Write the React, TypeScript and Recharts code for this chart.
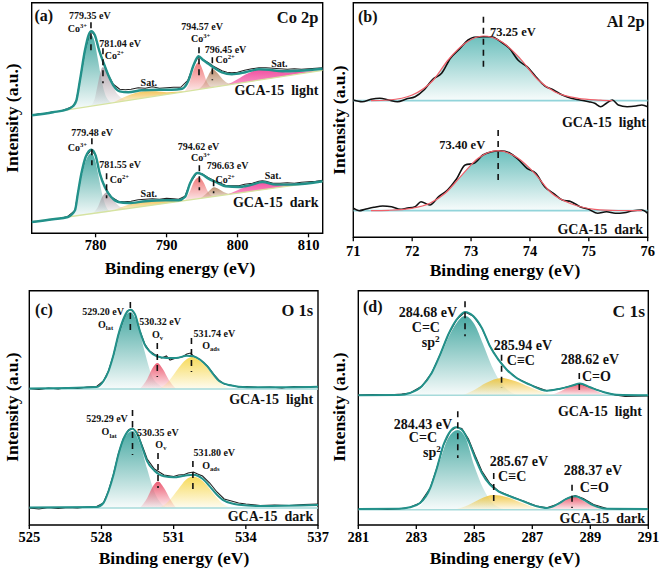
import React from 'react';
import {
  ComposedChart,
  Line,
  Area,
  Scatter,
  XAxis,
  YAxis,
  ReferenceArea,
  ReferenceLine,
} from 'recharts';

const FONT = '"Liberation Serif", "Times New Roman", serif';

type P = [number, number];
type B = [number, number, number];

// ---------- (a) Co 2p ----------
const coTicks = [780, 790, 800, 810];
const coLightEnv: P[] = [[771,118],[774,121],[776,124],[776.8,127],[777.3,133],[777.8,153],[778.5,183],[779,198],[779.4,202],[779.9,198],[780.5,183],[781.1,171],[781.8,158],[782.5,148],[783.4,142],[784.6,141],[786.5,143],[788.9,143.5],[790.7,143.5],[792.2,144.5],[793.1,153],[793.8,168],[794.5,177],[795.2,173],[795.9,169.5],[796.6,166],[797.8,161],[799.2,159],[801.1,161],[803,164],[804.4,163.5],[806.3,162],[808.7,162.5],[812,164.5]];
const coLightRaw: P[] = [[771,118],[772,119.5],[773,120],[774,121.5],[775,122],[776,124.5],[776.8,127],[777.3,133],[777.8,153],[778.5,183],[779.2,201],[779.4,202],[779.9,198],[780.5,183],[781.1,171],[781.8,158],[782.5,149],[783.4,144],[784.2,143.5],[785,144],[786,145.5],[787,145],[788,146.5],[789,145],[790,145.5],[791,146],[792,146],[793,153],[793.8,168],[794.5,177],[795.2,173.5],[795.9,170.5],[796.6,167],[797.8,162.5],[798.5,161],[799.2,160.5],[800,161],[801,163],[802,164.5],[803,165.5],[804,165.5],[805,165],[806,164.5],[807,164],[808,164.5],[809,164],[810,164.5],[811,165],[812,165.5]];
const coLightBase: P[] = [[771,118],[812,163]];
const coLightCo3a: B[] = [[776.5,124,124.5],[777.3,124.9,132],[777.8,125.5,150],[778.5,126.2,180],[779,126.8,195],[779.4,127.2,198],[779.8,127.7,193],[780.3,128.2,175],[780.8,128.8,155],[781.3,129.3,140],[781.8,129.9,133],[782.3,130.4,130.6]];
const coLightCo2a: B[] = [[779.3,127.1,127.3],[779.9,127.8,135],[780.4,128.3,152],[781,129,166],[781.6,129.6,162],[782.2,130.3,152],[782.8,131,142],[783.5,131.7,136],[784.3,132.6,133]];
const coLightSat1: B[] = [[782.5,130.6,130.7],[784,132.3,136],[785.5,133.9,140],[787,135.6,142],[788.5,137.2,142],[790,138.9,141],[791.5,140.5,141.5],[792.5,141.6,141.7]];
const coLightCo3b: B[] = [[792.5,141.6,141.7],[793.2,142.4,150],[793.8,143,163],[794.5,143.8,171],[795.1,144.5,163],[795.7,145.1,151],[796.3,145.8,146.5],[796.8,146.3,146.4]];
const coLightCo2b: B[] = [[794.5,143.8,143.9],[795.3,144.7,150],[795.9,145.3,158],[796.5,146,164],[797.2,146.7,160],[797.9,147.5,154],[798.7,148.4,150],[799.5,149.3,149.5]];
const coLightSat2: B[] = [[798.5,148.2,148.3],[800,149.8,154],[801.5,151.5,160],[803,153.1,163.5],[804.5,154.8,163],[806,156.4,161.5],[807.5,158.1,161],[809,159.7,161.5],[810.5,161.4,162],[811.5,162.5,162.6]];

const coDarkEnv: P[] = [[771,11.3],[774,14],[776.1,16.3],[777.1,23],[777.5,39.7],[778,59.7],[778.6,76.3],[779.4,83.7],[780,78],[780.6,59.7],[781.3,46.3],[782.2,36.3],[783.2,31.3],[784.6,30.3],[787,32],[789.8,33],[791.7,33],[792.6,36.3],[793.3,49.7],[794.3,60.3],[795,59],[795.9,54.7],[796.9,51.3],[798.3,47],[800.2,46.3],[802.1,48.7],[803.5,51.3],[805.4,48.7],[807.7,48.7],[812,52]];
const coDarkRaw: P[] = [[771,11],[772,12],[773,13],[774,14],[775,15],[776,16.5],[777.1,23],[777.5,39.7],[778,59.7],[778.6,76.3],[779.4,83.7],[780,78],[780.6,59.7],[781.3,46.3],[782.2,36.3],[783.2,32],[784,31.5],[785,32],[786,33.5],[787,34],[788,34.5],[789,34],[790,35],[791,34.5],[791.7,34],[792.6,37],[793.3,50],[794.3,60.5],[795,59.5],[795.9,55.5],[796.9,52],[798.3,48],[799,47.5],[800.2,47.5],[801,49],[802.1,50],[803,52],[803.5,52.5],[804,52],[805,50],[806,50],[807,50.5],[808,50],[809,51],[810,51.5],[811,52],[812,53]];
const coDarkBase: P[] = [[771,11.3],[812,52]];
const coDarkCo3a: B[] = [[776.6,16.1,16.2],[777.3,16.8,27],[777.8,17.3,48],[778.5,18,70],[779,18.5,78],[779.4,18.9,80],[779.9,19.4,74],[780.4,19.9,58],[780.9,20.4,40],[781.4,20.9,28],[781.9,21.4,22.5],[782.3,21.8,21.9]];
const coDarkCo2a: B[] = [[779.6,19.8,19.9],[780.3,20.5,26],[780.9,21.1,36],[781.6,21.8,41],[782.2,22.4,37],[782.9,23.1,30],[783.6,23.8,26],[784.4,24.6,25]];
const coDarkSat1: B[] = [[782.5,22.7,22.8],[784,24.2,27],[785.5,25.7,30],[787,27.1,31.5],[788.5,28.6,32],[790,30.1,32],[791.5,31.6,32.5],[792.5,32.6,32.7]];
const coDarkCo3b: B[] = [[792.6,32.7,32.8],[793.3,33.4,42],[793.9,34,52],[794.6,34.7,56],[795.2,35.3,51],[795.8,35.9,42],[796.4,36.5,37.5],[796.9,37,37.1]];
const coDarkCo2b: B[] = [[794.8,34.9,35],[795.5,35.6,39],[796.1,36.2,43],[796.7,36.8,46],[797.4,37.5,44],[798.1,38.2,41],[798.9,39,39.5],[799.6,39.7,39.8]];
const coDarkSat2: B[] = [[798.5,38.5,38.6],[800,40,43],[801.5,41.5,47.5],[803,43,50],[803.6,43.6,50.5],[805,45,49],[806.5,46.5,48],[808,48,48.5],[809.5,49.4,49.6],[811,51,51.1]];

const coMarks: B[] = [[779.35,211,180],[781.04,185,150],[794.57,186,155],[796.45,176,153],[779.48,95,68],[781.55,60,35],[794.62,68,43],[796.63,53,40]];
const coNotes = [
  { x: 771.4, y: 218, t: '(a)', a: 'start', k: 'letter' },
  { x: 811.4, y: 216, t: 'Co 2p', a: 'end', k: 'title' },
  { x: 779.2, y: 218, t: '779.35 eV' },
  { x: 778.8, y: 205, t: 'Co^{3+}', a: 'end' },
  { x: 783.45, y: 190, t: '781.04 eV' },
  { x: 781.3, y: 178, t: 'Co^{2+}', a: 'start' },
  { x: 787.5, y: 151, t: 'Sat.' },
  { x: 795.0, y: 207, t: '794.57 eV' },
  { x: 794.8, y: 195, t: 'Co^{3+}' },
  { x: 798.3, y: 184, t: '796.45 eV' },
  { x: 796.9, y: 174, t: 'Co^{2+}', a: 'start' },
  { x: 805.9, y: 170, t: 'Sat.' },
  { x: 811.4, y: 143, t: 'GCA-15  light', a: 'end', k: 'sample' },
  { x: 779.5, y: 101, t: '779.48 eV' },
  { x: 778.8, y: 86, t: 'Co^{3+}', a: 'end' },
  { x: 783.45, y: 69, t: '781.55 eV' },
  { x: 782.0, y: 54, t: 'Co^{2+}', a: 'start' },
  { x: 787.5, y: 40, t: 'Sat.' },
  { x: 794.5, y: 87, t: '794.62 eV' },
  { x: 794.8, y: 76, t: 'Co^{3+}' },
  { x: 798.6, y: 68, t: '796.63 eV' },
  { x: 796.9, y: 54, t: 'Co^{2+}', a: 'start' },
  { x: 805.0, y: 58, t: 'Sat.' },
  { x: 811.4, y: 31, t: 'GCA-15  dark', a: 'end', k: 'sample' },
];

// ---------- (b) Al 2p ----------
const alTicks = [71, 72, 73, 74, 75, 76];
const alLightFit: P[] = [[71.3,136.6],[71.6,137.3],[72,142.3],[72.36,157.3],[72.61,177.3],[72.9,194],[73.21,201.3],[73.52,195.6],[73.83,179],[74.14,157.3],[74.42,145.6],[74.82,139],[75.2,137.2],[75.4,136.6]];
const alLightRaw: P[] = [[71,137.3],[71.15,135.6],[71.3,138],[71.45,139],[71.6,137.3],[71.75,135.6],[71.9,138.3],[72.05,140.6],[72.2,147.3],[72.35,158],[72.5,164],[72.65,179],[72.8,188],[72.95,197.3],[73.05,200],[73.2,200.6],[73.35,200.6],[73.5,195.6],[73.65,189],[73.8,177],[73.95,170.6],[74.1,160.6],[74.25,151.5],[74.4,147.3],[74.55,142.3],[74.7,139],[74.85,137.3],[75,135.6],[75.1,134],[75.2,130.6],[75.3,134],[75.4,137.3],[75.5,132.3],[75.65,130.6],[75.8,131.3],[75.9,132.3],[76,130.6]];
const alLightBase: P[] = [[71,136.6],[76,136.6]];
const alDarkFit: P[] = [[71.3,26.6],[71.6,27],[71.99,29],[72.3,34],[72.56,44],[72.84,62],[73.12,79],[73.46,86.6],[73.8,79],[74.08,64],[74.37,44],[74.71,33.3],[75.1,28],[75.5,26.8],[75.9,26.6]];
const alDarkRaw: P[] = [[71,29],[71.1,26.6],[71.2,28],[71.35,30],[71.5,31.3],[71.65,30.6],[71.8,28],[71.9,29],[72.05,30.6],[72.15,35.6],[72.3,32.3],[72.45,40.6],[72.6,47.3],[72.75,58],[72.9,72.3],[73.05,74],[73.2,82.3],[73.35,85.6],[73.5,86.6],[73.65,84.6],[73.8,78],[73.95,69],[74.1,64],[74.25,50.6],[74.4,44],[74.55,37.3],[74.7,35.6],[74.85,30.6],[75,28],[75.15,24],[75.3,25.6],[75.45,24],[75.6,24.6],[75.75,26.6],[75.9,27.3],[76,24]];
const alDarkBase: P[] = [[71,26.6],[76,26.6]];
const alMarks: B[] = [[73.21,220.6,170.6],[73.46,107.3,57.3]];
const alNotes = [
  { x: 71.08, y: 221, t: '(b)', a: 'start', k: 'letter' },
  { x: 75.95, y: 216, t: 'Al 2p', a: 'end', k: 'title' },
  { x: 73.32, y: 205.6, t: '73.25 eV', a: 'start' },
  { x: 75.97, y: 115, t: 'GCA-15  light', a: 'end', k: 'sample' },
  { x: 73.24, y: 93, t: '73.40 eV', a: 'end' },
  { x: 75.92, y: 8, t: 'GCA-15  dark', a: 'end', k: 'sample' },
];

// ---------- (c) O 1s ----------
const oTicks = [525, 528, 531, 534, 537];
const oLightEnv: P[] = [[525,135.5],[527.8,137],[528.08,142.7],[528.29,152.7],[528.5,169.3],[528.7,189.3],[528.9,204.3],[529.08,212.7],[529.22,214.3],[529.4,209.3],[529.6,192.7],[529.8,179.3],[530,172.7],[530.3,167.7],[530.7,166],[531.1,166],[531.55,168.3],[531.82,167.7],[532.1,164.3],[532.4,157.7],[532.66,149.3],[532.9,142.7],[533.35,138.7],[534.05,136.7],[535,136.7],[537,137.3]];
const oLightRaw: P[] = [[525,135.5],[525.4,134.5],[525.8,136],[526.2,135],[526.6,136.5],[527,135.5],[527.4,137],[527.8,137.5],[528.08,143],[528.29,153],[528.5,169],[528.7,189],[528.9,204],[529.08,213],[529.22,214.5],[529.4,209.5],[529.6,193],[529.8,180],[530,173],[530.3,168],[530.5,166],[530.7,168],[530.85,164],[531.1,166],[531.35,167],[531.55,170],[531.7,171],[531.82,168],[532.1,164.5],[532.4,158],[532.66,150],[532.9,143.5],[533.1,140],[533.35,139],[533.7,137],[534.05,137.5],[534.5,136.5],[535,137],[535.5,136],[536,137.5],[536.5,137],[537,137.5]];
const oLightLat: P[] = [[527.9,135],[528.3,150],[528.6,178],[528.9,203],[529.2,212],[529.5,200],[529.8,172],[530.1,148],[530.4,139],[530.7,135]];
const oLightV: P[] = [[529.6,135],[529.9,145],[530.1,155],[530.32,161],[530.55,155],[530.8,144],[531.1,135]];
const oLightAds: P[] = [[530.4,135],[530.8,143],[531.2,156],[531.5,164],[531.76,167],[532.1,163],[532.4,156],[532.7,147],[533,140],[533.4,135]];
const oDarkEnv: P[] = [[525,16.5],[527.8,17],[528.08,21],[528.29,32.7],[528.5,49.3],[528.7,69.3],[528.9,84.3],[529.12,93.3],[529.29,95.3],[529.5,89.3],[529.7,76],[529.9,62.7],[530.2,53.3],[530.6,47.7],[531,46.7],[531.45,48.3],[531.82,49.3],[532.2,45.3],[532.5,37.7],[532.8,29.3],[533.1,23.3],[533.7,19.3],[534.6,18],[537,19]];
const oDarkRaw: P[] = [[525,16],[525.4,15],[525.8,16.5],[526.2,15.5],[526.6,16.5],[527,16],[527.4,17],[527.8,17.5],[528.08,21],[528.29,33],[528.5,50],[528.7,70],[528.9,85],[529.12,94],[529.29,96],[529.5,90.5],[529.7,78],[529.9,65],[530.2,55],[530.6,49],[531,47.5],[531.2,49],[531.45,49.5],[531.6,51],[531.82,52],[532,50],[532.2,48],[532.5,41],[532.8,32],[533.1,25],[533.4,23],[533.7,21],[534,20],[534.6,18.5],[535.2,19],[535.8,18.5],[536.4,19.5],[537,20]];
const oDarkLat: P[] = [[527.9,16],[528.3,31],[528.6,58],[528.9,83],[529.29,93],[529.6,80],[529.9,55],[530.2,32],[530.5,20],[530.8,16]];
const oDarkV: P[] = [[529.6,16],[529.9,26],[530.1,36],[530.35,42.5],[530.6,36],[530.85,25],[531.1,16]];
const oDarkAds: P[] = [[530.4,16],[530.8,23],[531.2,35],[531.5,44],[531.8,47.5],[532.1,45],[532.4,38],[532.7,29],[533,21],[533.4,16]];
const oLightBase: P[] = [[525,135],[537,135]];
const oDarkBase: P[] = [[525,16],[537,16]];
const oMarks: B[] = [[529.2,222,193],[530.32,181,147],[531.74,186,152],[529.29,114,69],[530.35,71,36],[531.8,63,34]];
const oNotes = [
  { x: 525.24, y: 214.3, t: '(c)', a: 'start', k: 'letter' },
  { x: 536.8, y: 213.3, t: 'O 1s', a: 'end', k: 'title' },
  { x: 528.07, y: 212, t: '529.20 eV' },
  { x: 528.17, y: 199.3, t: 'O_{lat}' },
  { x: 530.44, y: 202.7, t: '530.32 eV' },
  { x: 530.33, y: 189.3, t: 'O_{v}' },
  { x: 531.83, y: 190, t: '531.74 eV', a: 'start' },
  { x: 532.19, y: 178.7, t: 'O_{ads}', a: 'start' },
  { x: 536.8, y: 124.3, t: 'GCA-15  light', a: 'end', k: 'sample' },
  { x: 528.23, y: 105, t: '529.29 eV' },
  { x: 528.32, y: 92, t: 'O_{lat}' },
  { x: 529.48, y: 91, t: '530.35 eV', a: 'start' },
  { x: 530.47, y: 79.3, t: 'O_{v}' },
  { x: 531.82, y: 71.7, t: '531.80 eV', a: 'start' },
  { x: 532.19, y: 58.7, t: 'O_{ads}', a: 'start' },
  { x: 536.8, y: 7.7, t: 'GCA-15  dark', a: 'end', k: 'sample' },
];

// ---------- (d) C 1s ----------
const cTicks = [281, 283, 285, 287, 289, 291];
const cLightEnv: P[] = [[281,128.7],[282.4,129],[282.78,131],[283.19,137.7],[283.53,151],[283.82,169.3],[284.1,189.3],[284.39,204.3],[284.68,212],[284.97,207.7],[285.26,196],[285.54,177.7],[285.83,164.3],[286.12,154.3],[286.46,146],[286.92,139.3],[287.5,133.3],[287.96,135.3],[288.41,138.7],[288.64,140.5],[288.99,136.7],[289.45,132],[289.91,129.3],[291,128.7]];
const cLightRaw: P[] = [[281,129],[281.5,129.5],[282,129],[282.5,130],[282.78,131],[283.19,137.7],[283.53,151],[283.82,169.3],[284.1,189.3],[284.39,204.3],[284.68,212],[284.97,207.7],[285.26,196],[285.54,177.7],[285.83,164.3],[286.12,154.3],[286.46,146],[286.92,139.3],[287.5,133.3],[287.96,135.3],[288.41,138.7],[288.64,140.5],[288.99,136.7],[289.45,132],[289.91,128.8],[290.2,127.5],[290.6,127.8],[291,128]];
const cLightCC: P[] = [[282.7,128.7],[283,131],[283.4,143],[283.8,166],[284.2,192],[284.68,208],[285,200],[285.3,180],[285.6,158],[285.9,142],[286.2,133],[286.5,128.7]];
const cLightCtC: P[] = [[284.6,128.7],[285,134],[285.4,141],[285.94,146],[286.4,143],[286.9,137],[287.4,131.5],[287.8,128.7]];
const cLightCO: P[] = [[287.6,128.7],[288,133],[288.3,138],[288.62,140],[288.9,138],[289.2,133],[289.6,128.7]];
const cDarkEnv: P[] = [[281,15],[282.4,15.3],[282.78,16.7],[283.13,21],[283.48,36],[283.71,56],[283.94,79.3],[284.17,92.7],[284.37,96.7],[284.57,94.3],[284.8,82.7],[285.03,66],[285.26,51],[285.54,39.3],[285.83,32.7],[286.23,27.7],[286.69,22.7],[287.15,17.7],[287.5,16],[287.84,19.3],[288.19,25.3],[288.48,27.7],[288.76,24.3],[289.11,18.7],[289.57,15.3],[291,15]];
const cDarkRaw: P[] = [[281,15],[281.5,15.5],[282,14.5],[282.5,15.5],[282.78,16.7],[283.13,21],[283.48,36],[283.71,56],[283.94,79.3],[284.17,92.7],[284.37,96.7],[284.57,95.5],[284.8,85],[285.03,68.5],[285.26,53],[285.54,40.5],[285.83,33],[286.23,28],[286.69,23],[287.15,18],[287.5,16.3],[287.84,19.5],[288.19,25.5],[288.48,28.5],[288.76,25.5],[289.11,19.5],[289.57,15.5],[290,15],[290.5,15.5],[291,15]];
const cDarkCC: P[] = [[282.9,14.3],[283.2,20],[283.5,36],[283.8,62],[284.1,86],[284.43,94],[284.7,86],[285,58],[285.3,36],[285.6,22],[285.9,16],[286.2,14.3]];
const cDarkCtC: P[] = [[284.3,14.3],[284.8,19],[285.2,25],[285.67,29],[286.1,27],[286.6,21.5],[287,17],[287.4,14.3]];
const cDarkCO: P[] = [[287.5,14.3],[287.9,19],[288.15,24],[288.4,27.5],[288.65,25],[288.95,20],[289.3,16],[289.6,14.3]];
const cLightBase: P[] = [[281,128.7],[291,128.7]];
const cDarkBase: P[] = [[281,14.3],[291,14.3]];
const cMarks: B[] = [[284.68,222.7,187.7],[285.94,169.3,136],[288.62,151,132.7],[284.43,112.7,66],[285.67,51,21],[288.37,39.3,16]];
const cNotes = [
  { x: 281.16, y: 217.7, t: '(d)', a: 'start', k: 'letter' },
  { x: 290.89, y: 213.3, t: 'C 1s', a: 'end', k: 'title' },
  { x: 283.4, y: 212, t: '284.68 eV' },
  { x: 283.33, y: 196.5, t: 'C=C' },
  { x: 283.5, y: 181.5, t: 'sp^{2}' },
  { x: 286.68, y: 178.7, t: '285.94 eV' },
  { x: 286.12, y: 163.3, t: 'C≡C', a: 'start' },
  { x: 288.99, y: 165, t: '288.62 eV' },
  { x: 288.71, y: 147.7, t: 'C=O', a: 'start' },
  { x: 290.78, y: 112.7, t: 'GCA-15  light', a: 'end', k: 'sample' },
  { x: 283.23, y: 100, t: '284.43 eV' },
  { x: 283.23, y: 86.5, t: 'C=C' },
  { x: 283.54, y: 71.5, t: 'sp^{2}' },
  { x: 286.54, y: 62.7, t: '285.67 eV' },
  { x: 285.82, y: 47.7, t: 'C≡C', a: 'start' },
  { x: 289.09, y: 53.3, t: '288.37 eV' },
  { x: 288.64, y: 36.7, t: 'C=O', a: 'start' },
  { x: 290.89, y: 6, t: 'GCA-15  dark', a: 'end', k: 'sample' },
];

// ---------- helpers ----------
const pts = (a: P[]) => a.map(([x, y]) => ({ x, y }));
const band = (a: B[]) => a.map(([x, lo, hi]) => ({ x, r: [lo, hi] }));

const TEAL = '#35a099';
const ENV = '#22918a';

// text with ^{..} superscripts and _{..} subscripts, centred vertically on y
function Rich({ x, y, text, size, anchor }: any) {
  const parts = text.split(/(\^\{[^}]*\}|_\{[^}]*\})/).filter(Boolean);
  let shift = 0;
  return (
    <text
      x={x}
      y={y + size * 0.34}
      fontSize={size}
      fontFamily={FONT}
      fontWeight="bold"
      fill="#111"
      textAnchor={anchor}
      style={{ whiteSpace: 'pre' }}
    >
      {parts.map((s: string, i: number) => {
        if (s[0] === '^' || s[0] === '_') {
          const d = s[0] === '^' ? -size * 0.36 : size * 0.22;
          const dy = d - shift;
          shift = d;
          return (
            <tspan key={i} dy={dy} fontSize={size * 0.66}>
              {s.slice(2, -1)}
            </tspan>
          );
        }
        const dy = -shift;
        shift = 0;
        return (
          <tspan key={i} dy={dy}>
            {s}
          </tspan>
        );
      })}
    </text>
  );
}

type Fill = { data: any[]; color: string; fade?: number; top?: number; base?: number };
type Ln = { data: P[]; color: string; w: number; curve?: any };

function Panel(p: {
  id: string;
  left: number;
  top: number;
  width: number;
  height: number;
  margin: any;
  xDomain: [number, number];
  ticks: number[];
  tickMargin: number;
  yDomain: [number, number];
  fills: Fill[];
  lines: Ln[];
  marks: B[];
  notes: any[];
  sizes: Record<string, number>;
}) {
  return (
    <div style={{ position: 'absolute', left: p.left, top: p.top }}>
      <ComposedChart width={p.width} height={p.height} margin={p.margin}>
        <defs>
          {p.fills.map((f, i) => (
            <linearGradient key={i} id={`${p.id}g${i}`} x1="0" y1="0" x2="0" y2="1">
              <stop offset="0%" stopColor={f.color} stopOpacity={f.top ?? 0.9} />
              <stop offset="100%" stopColor={f.color} stopOpacity={f.fade ?? 0.04} />
            </linearGradient>
          ))}
        </defs>
        <XAxis
          dataKey="x"
          type="number"
          domain={p.xDomain}
          ticks={p.ticks}
          interval={0}
          allowDataOverflow
          height={30}
          axisLine={false}
          tickLine={{ stroke: '#000', strokeWidth: 1.3 }}
          tickSize={4}
          tickMargin={p.tickMargin}
          tick={{ fill: '#000', fontSize: 14.5, fontFamily: FONT, fontWeight: 'bold' }}
        />
        <YAxis hide type="number" domain={p.yDomain} allowDataOverflow />
        {p.fills.map((f, i) =>
          f.base === undefined ? (
            <Area
              key={`f${i}`}
              data={f.data}
              dataKey="r"
              type="monotone"
              stroke="none"
              fill={`url(#${p.id}g${i})`}
              fillOpacity={1}
              isAnimationActive={false}
              dot={false}
              activeDot={false}
            />
          ) : (
            <Area
              key={`f${i}`}
              data={f.data}
              dataKey="y"
              baseValue={f.base}
              type="monotone"
              stroke="none"
              fill={`url(#${p.id}g${i})`}
              fillOpacity={1}
              isAnimationActive={false}
              dot={false}
              activeDot={false}
            />
          )
        )}
        {p.lines.map((l, i) => (
          <Line
            key={`l${i}`}
            data={pts(l.data)}
            dataKey="y"
            type={l.curve ?? 'monotone'}
            stroke={l.color}
            strokeWidth={l.w}
            dot={false}
            activeDot={false}
            isAnimationActive={false}
          />
        ))}
        {p.marks.map(([x, y1, y2], i) => (
          <ReferenceLine
            key={`m${i}`}
            segment={[
              { x, y: y1 },
              { x, y: y2 },
            ]}
            stroke="#111"
            strokeWidth={1.6}
            strokeDasharray="6 5"
          />
        ))}
        <Scatter
          data={p.notes}
          dataKey="y"
          isAnimationActive={false}
          shape={(s: any) => {
            const d = s.payload ?? s;
            return (
              <Rich
                x={s.cx}
                y={s.cy}
                text={d.t}
                anchor={d.a ?? 'middle'}
                size={p.sizes[d.k ?? 'tag']}
              />
            );
          }}
        />
        <ReferenceArea
          x1={p.xDomain[0]}
          x2={p.xDomain[1]}
          y1={p.yDomain[0]}
          y2={p.yDomain[1]}
          fill="none"
          stroke="#000"
          strokeWidth={1.4}
        />
      </ComposedChart>
    </div>
  );
}

const xTitles = [
  { cx: 180, cy: 268 },
  { cx: 505, cy: 270 },
  { cx: 174, cy: 558 },
  { cx: 505, cy: 558 },
];
const yTitles = [
  { cx: 13, cy: 118 },
  { cx: 340, cy: 120 },
  { cx: 13, cy: 407 },
  { cx: 340, cy: 407 },
];

export default function App() {
  return (
    <div
      style={{
        position: 'absolute',
        left: 0,
        top: 0,
        width: 661,
        height: 570,
        background: '#fff',
        fontFamily: FONT,
        overflow: 'hidden',
      }}
    >
      <Panel
        id="pa"
        left={0}
        top={0}
        width={330}
        height={290}
        margin={{ top: 2.7, left: 31.7, right: 7.3, bottom: 26.7 }}
        xDomain={[771, 812]}
        ticks={coTicks}
        tickMargin={2.5}
        yDomain={[0, 230.6]}
        fills={[
          { data: band(coLightCo3a), color: TEAL },
          { data: band(coLightCo2a), color: '#a99ba3' },
          { data: band(coLightSat1), color: '#f2c14e', fade: 0.2 },
          { data: band(coLightCo3b), color: '#ee6a6a', fade: 0.15 },
          { data: band(coLightCo2b), color: '#b5835f', fade: 0.2 },
          { data: band(coLightSat2), color: '#f23f97', fade: 0.55 },
          { data: band(coDarkCo3a), color: TEAL },
          { data: band(coDarkCo2a), color: '#a99ba3' },
          { data: band(coDarkSat1), color: '#f2c14e', fade: 0.2 },
          { data: band(coDarkCo3b), color: '#ee6a6a', fade: 0.15 },
          { data: band(coDarkCo2b), color: '#b5835f', fade: 0.2 },
          { data: band(coDarkSat2), color: '#f23f97', fade: 0.55 },
        ]}
        lines={[
          { data: coLightBase, color: '#d6e3a0', w: 1.3, curve: 'linear' },
          { data: coDarkBase, color: '#d6e3a0', w: 1.3, curve: 'linear' },
          { data: coLightRaw, color: '#222', w: 1.1, curve: 'linear' },
          { data: coDarkRaw, color: '#222', w: 1.1, curve: 'linear' },
          { data: coLightEnv, color: ENV, w: 2.4 },
          { data: coDarkEnv, color: ENV, w: 2.4 },
        ]}
        marks={coMarks}
        notes={coNotes}
        sizes={{ tag: 10, sample: 14, title: 16.5, letter: 16 }}
      />
      <Panel
        id="pb"
        left={330}
        top={0}
        width={331}
        height={290}
        margin={{ top: 2.7, left: 23.3, right: 13.3, bottom: 22.7 }}
        xDomain={[71, 76]}
        ticks={alTicks}
        tickMargin={4.5}
        yDomain={[0, 234.6]}
        fills={[
          { data: pts(alLightFit), color: '#52b4b1', base: 136.6, top: 0.85 },
          { data: pts(alDarkFit), color: '#52b4b1', base: 26.6, top: 0.85 },
        ]}
        lines={[
          { data: alLightBase, color: '#92d4da', w: 1.8, curve: 'linear' },
          { data: alDarkBase, color: '#92d4da', w: 1.8, curve: 'linear' },
          { data: alLightRaw, color: '#111', w: 1.6 },
          { data: alDarkRaw, color: '#111', w: 1.6 },
          { data: alLightFit, color: '#f0606a', w: 1.2 },
          { data: alDarkFit, color: '#f0606a', w: 1.2 },
        ]}
        marks={alMarks}
        notes={alNotes}
        sizes={{ tag: 12.5, sample: 14, title: 16.5, letter: 16 }}
      />
      <Panel
        id="pc"
        left={0}
        top={285}
        width={330}
        height={285}
        margin={{ top: 5.7, left: 29.3, right: 12, bottom: 15 }}
        xDomain={[525, 537]}
        ticks={oTicks}
        tickMargin={2.5}
        yDomain={[-1, 233.3]}
        fills={[
          { data: pts(oLightLat), color: TEAL, base: 135 },
          { data: pts(oLightV), color: '#ea4a63', base: 135, fade: 0.08 },
          { data: pts(oLightAds), color: '#f6d648', base: 135, fade: 0.08 },
          { data: pts(oDarkLat), color: TEAL, base: 16 },
          { data: pts(oDarkV), color: '#ea4a63', base: 16, fade: 0.08 },
          { data: pts(oDarkAds), color: '#f6d648', base: 16, fade: 0.08 },
        ]}
        lines={[
          { data: oLightBase, color: '#a6dada', w: 1.5, curve: 'linear' },
          { data: oDarkBase, color: '#a6dada', w: 1.5, curve: 'linear' },
          { data: oLightRaw, color: '#222', w: 1.1, curve: 'linear' },
          { data: oDarkRaw, color: '#222', w: 1.1, curve: 'linear' },
          { data: oLightEnv, color: ENV, w: 2 },
          { data: oDarkEnv, color: ENV, w: 2 },
        ]}
        marks={oMarks}
        notes={oNotes}
        sizes={{ tag: 10, sample: 14, title: 16.5, letter: 16 }}
      />
      <Panel
        id="pd"
        left={330}
        top={285}
        width={331}
        height={285}
        margin={{ top: 5.7, left: 28.3, right: 12.7, bottom: 15 }}
        xDomain={[281, 291]}
        ticks={cTicks}
        tickMargin={2.5}
        yDomain={[-1, 233.3]}
        fills={[
          { data: pts(cLightCC), color: TEAL, base: 128.7 },
          { data: pts(cLightCtC), color: '#f0c43a', base: 128.7, fade: 0.08 },
          { data: pts(cLightCO), color: '#e94d62', base: 128.7, fade: 0.1 },
          { data: pts(cDarkCC), color: TEAL, base: 14.3 },
          { data: pts(cDarkCtC), color: '#f0c43a', base: 14.3, fade: 0.08 },
          { data: pts(cDarkCO), color: '#e94d62', base: 14.3, fade: 0.1 },
        ]}
        lines={[
          { data: cLightBase, color: '#a6dada', w: 1.5, curve: 'linear' },
          { data: cDarkBase, color: '#a6dada', w: 1.5, curve: 'linear' },
          { data: cLightRaw, color: '#222', w: 1.1, curve: 'linear' },
          { data: cDarkRaw, color: '#222', w: 1.1, curve: 'linear' },
          { data: cLightEnv, color: ENV, w: 2 },
          { data: cDarkEnv, color: ENV, w: 2 },
        ]}
        marks={cMarks}
        notes={cNotes}
        sizes={{ tag: 14, sample: 14, title: 17.5, letter: 16 }}
      />
      {xTitles.map((t, i) => (
        <div
          key={`xt${i}`}
          style={{
            position: 'absolute',
            left: t.cx - 110,
            top: t.cy - 12,
            width: 220,
            height: 24,
            lineHeight: '24px',
            textAlign: 'center',
            fontSize: 17.5,
            fontWeight: 'bold',
            whiteSpace: 'nowrap',
          }}
        >
          Binding energy (eV)
        </div>
      ))}
      {yTitles.map((t, i) => (
        <div
          key={`yt${i}`}
          style={{
            position: 'absolute',
            left: t.cx,
            top: t.cy,
            transform: 'translate(-50%, -50%) rotate(-90deg)',
            fontSize: 17.5,
            fontWeight: 'bold',
            whiteSpace: 'nowrap',
            lineHeight: 1,
          }}
        >
          Intensity (a.u.)
        </div>
      ))}
    </div>
  );
}
